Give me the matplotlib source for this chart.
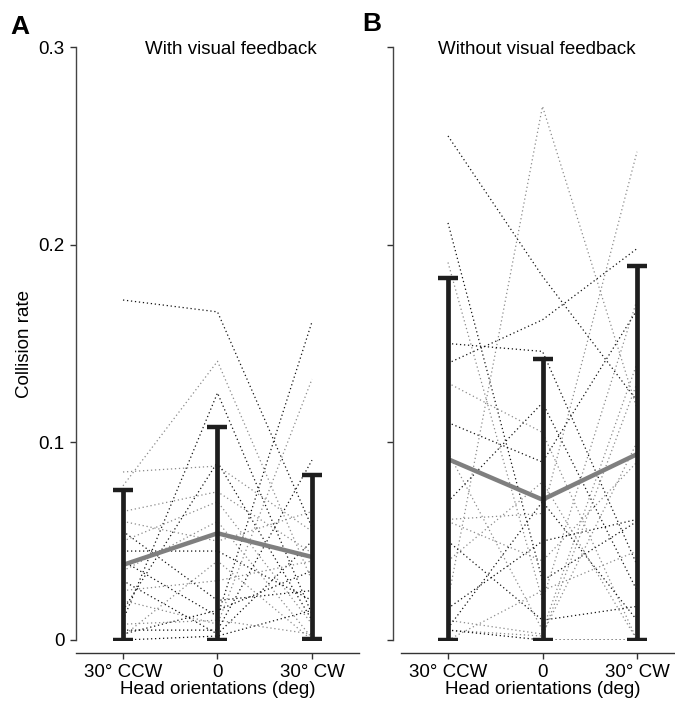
import matplotlib
matplotlib.use("Agg")
import matplotlib.pyplot as plt
import numpy as np

plt.rcParams['font.family'] = ['Liberation Sans', 'DejaVu Sans']

conditions = ["30° CCW", "0", "30° CW"]
titles = ["With visual feedback", "Without visual feedback"]
panel_letters = ["A", "B"]

# Panel A: individual subjects (CCW, 0, CW)
a_ccw = [0.172, 0.078, 0.010, 0.085, 0.040, 0.020, 0.005, 0.065, 0.055, 0.050,
         0.045, 0.035, 0.030, 0.025, 0.015, 0.008, 0.003, 0.002, 0.000, 0.060]
a_zero = [0.166, 0.141, 0.125, 0.088, 0.012, 0.008, 0.005, 0.075, 0.020, 0.070,
          0.045, 0.060, 0.003, 0.030, 0.090, 0.010, 0.015, 0.040, 0.002, 0.050]
a_cw = [0.057, 0.030, 0.013, 0.055, 0.161, 0.132, 0.091, 0.044, 0.025, 0.008,
        0.020, 0.001, 0.050, 0.040, 0.010, 0.003, 0.035, 0.000, 0.015, 0.065]
a_mean = [0.038, 0.054, 0.042]
a_sd = [0.038, 0.054, 0.0415]

# Panel B: individual subjects (CCW, 0, CW)
b_ccw = [0.255, 0.020, 0.211, 0.191, 0.150, 0.061, 0.140, 0.130, 0.110, 0.095,
         0.070, 0.060, 0.050, 0.040, 0.016, 0.010, 0.006, 0.005, 0.005, 0.000]
b_zero = [0.184, 0.270, 0.030, 0.020, 0.146, 0.064, 0.162, 0.105, 0.090, 0.005,
          0.120, 0.040, 0.010, 0.080, 0.050, 0.003, 0.070, 0.002, 0.000, 0.025]
b_cw = [0.121, 0.117, 0.060, 0.172, 0.038, 0.247, 0.198, 0.000, 0.167, 0.140,
        0.025, 0.090, 0.017, 0.000, 0.061, 0.100, 0.010, 0.130, 0.000, 0.045]
b_mean = [0.0915, 0.071, 0.094]
b_sd = [0.0915, 0.071, 0.095]

yticks = [0, 0.1, 0.2, 0.3]
ytick_labels = ["0", "0.1", "0.2", "0.3"]

FS = 13.5
W, H = 675, 706
fig = plt.figure(figsize=(W / 100, H / 100), dpi=100)

def fx(px):
    return px / W

def fy(py):
    return 1 - py / H

pos = [
    [fx(75.75), fy(640), fx(283.5), fy(47) - fy(640)],
    [fx(400.75), fy(640), fx(283.5), fy(47) - fy(640)],
]
left_offsets = [0, 5.5]

panels = [
    (a_ccw, a_zero, a_cw, a_mean, a_sd),
    (b_ccw, b_zero, b_cw, b_mean, b_sd),
]

x = np.arange(len(conditions))
for i, (ccw, zero, cw, mean, sd) in enumerate(panels):
    ax = fig.add_axes(pos[i])
    subj = np.array([ccw, zero, cw]).T
    for j, row in enumerate(subj):
        col = '#111111' if j % 2 == 0 else '#8a8a8a'
        ax.plot(x, row, color=col, lw=0.9, ls=(0, (1, 2.2)), zorder=1)
    mean = np.array(mean)
    sd = np.array(sd)
    lower = np.clip(mean - sd, 0, None)
    ax.plot(x, mean, color='#7f7f7f', lw=3.2, zorder=2, solid_capstyle='butt')
    ax.errorbar(x, mean, yerr=[mean - lower, sd], fmt='none', ecolor='#1e1e1e',
                elinewidth=3.4, capsize=7.5, capthick=3.2, zorder=3)
    ax.set_xlim(-0.5, 2.5)
    ax.set_ylim(0, 0.3)
    for s in ['top', 'right']:
        ax.spines[s].set_visible(False)
    ax.spines['bottom'].set_position(('outward', 9.4))
    ax.spines['left'].set_position(('outward', left_offsets[i]))
    ax.spines['left'].set_bounds(0, 0.3)
    ax.spines['left'].set_linewidth(1.0)
    ax.spines['bottom'].set_linewidth(1.0)
    ax.spines['left'].set_color('#444444')
    ax.spines['bottom'].set_color('#333333')
    ax.set_xticks(x)
    ax.set_xticklabels(conditions, fontsize=FS)
    ax.set_yticks(yticks)
    ax.tick_params(axis='both', length=4.5, width=1.0, color='#333333', pad=3.6)
    if i == 0:
        ax.set_yticklabels(ytick_labels, fontsize=FS)
        ax.set_ylabel("Collision rate", fontsize=FS, labelpad=4)
    else:
        ax.set_yticklabels([])
    ax.set_xlabel("Head orientations (deg)", fontsize=FS, labelpad=0)
    ax.patch.set_visible(False)

fig.text(fx(230.5), fy(50), titles[0], fontsize=FS, ha='center', va='center')
fig.text(fx(537), fy(50), titles[1], fontsize=FS, ha='center', va='center')
fig.text(fx(10), fy(27), panel_letters[0], fontsize=19, fontweight='bold', ha='left', va='center')
fig.text(fx(362), fy(24), panel_letters[1], fontsize=19, fontweight='bold', ha='left', va='center')

fig.savefig("out.png", dpi=100)
